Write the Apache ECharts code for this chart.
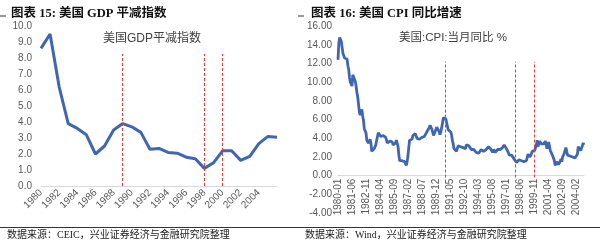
<!DOCTYPE html>
<html>
<head>
<meta charset="utf-8">
<script src="https://cdn.jsdelivr.net/npm/echarts@6/dist/echarts.min.js"></script>
<style>
html,body{margin:0;padding:0;background:#fff;}
#c{width:600px;height:242px;}
</style>
</head>
<body>
<div id="c"></div>
<script>
// ---- data ----
var gdpYears = ['1980','1981','1982','1983','1984','1985','1986','1987','1988','1989','1990','1991','1992','1993','1994','1995','1996','1997','1998','1999','2000','2001','2002','2003','2004','2005','2006'];
var gdpDeflator = [8.6,9.5,6.2,3.9,3.6,3.2,2.0,2.5,3.5,3.9,3.7,3.35,2.3,2.35,2.1,2.05,1.8,1.7,1.1,1.45,2.2,2.2,1.6,1.85,2.65,3.1,3.05];
var gdpMarkYears = ['1989','1998','2000'];

var cpiYears = [1980,1981,1982,1983,1984,1985,1986,1987,1988,1989,1990,1991,1992,1993,1994,1995,1996,1997,1998,1999,2000,2001,2002,2003,2004];
var cpi1980 = [12.4,14.2,14.8,14.7,14.4,14.4,13.1,12.9,12.6,12.8,12.6,12.5];
var cpi1981 = [11.8,11.4,10.5,10.0,9.8,9.6,10.8,10.8,11.0,10.1,9.6,8.9];
var cpi1982 = [8.4,7.6,6.8,6.5,6.7,7.1,6.4,5.9,5.0,5.1,4.6,3.8];
var cpi1983 = [3.7,3.5,3.6,3.9,3.5,2.6,2.5,2.6,2.9,2.9,3.3,3.8];
var cpi1984 = [4.2,4.6,4.8,4.6,4.2,4.2,4.2,4.3,4.3,4.3,4.1,3.9];
var cpi1985 = [3.5,3.5,3.7,3.7,3.8,3.8,3.6,3.3,3.1,3.2,3.5,3.8];
var cpi1986 = [3.9,3.1,2.2,1.6,1.5,1.8,1.6,1.6,1.8,1.5,1.3,1.1];
var cpi1987 = [1.5,2.1,3.0,3.8,3.9,3.7,3.9,4.3,4.4,4.5,4.5,4.4];
var cpi1988 = [4.0,3.9,3.9,3.9,3.9,4.0,4.1,4.0,4.2,4.2,4.2,4.4];
var cpi1989 = [4.7,4.8,5.0,5.1,5.4,5.2,5.0,4.7,4.3,4.5,4.7,4.6];
var cpi1990 = [5.2,5.3,5.2,4.7,4.4,4.7,4.8,5.6,6.2,6.3,6.3,6.1];
var cpi1991 = [5.7,5.3,4.9,4.9,5.0,4.7,4.4,3.8,3.4,2.9,3.0,3.1];
var cpi1992 = [2.6,2.8,3.2,3.2,3.0,3.1,3.2,3.1,3.0,3.2,3.0,2.9];
var cpi1993 = [3.3,3.2,3.1,3.2,3.2,3.0,2.8,2.8,2.7,2.8,2.7,2.7];
var cpi1994 = [2.5,2.5,2.5,2.4,2.3,2.5,2.8,2.9,3.0,2.6,2.7,2.7];
var cpi1995 = [2.8,2.9,2.9,3.1,3.2,3.0,2.8,2.6,2.5,2.8,2.6,2.5];
var cpi1996 = [2.7,2.7,2.8,2.9,2.9,2.8,3.0,2.9,3.0,3.0,3.3,3.3];
var cpi1997 = [3.0,3.0,2.8,2.5,2.2,2.3,2.2,2.2,2.2,2.1,1.8,1.7];
var cpi1998 = [1.6,1.4,1.4,1.4,1.7,1.7,1.7,1.6,1.5,1.5,1.5,1.6];
var cpi1999 = [1.7,1.6,1.7,2.3,2.1,2.0,2.1,2.3,2.6,2.6,2.6,2.7];
var cpi2000 = [2.7,3.2,3.8,3.1,3.2,3.7,3.7,3.4,3.5,3.4,3.4,3.4];
var cpi2001 = [3.7,3.5,2.9,3.3,3.6,3.2,2.7,2.7,2.6,2.1,1.9,1.6];
var cpi2002 = [1.1,1.1,1.5,1.6,1.2,1.1,1.5,1.8,1.5,2.0,2.2,2.4];
var cpi2003 = [2.6,3.0,3.0,2.2,2.1,2.1,2.1,2.2,2.3,2.0,1.8,1.9];
var cpi2004 = [1.9,1.7,1.7,2.3,3.1,3.3,3.0,2.7,2.5,3.2,3.5,3.3];
var cpiMarkMonths = ['1990-11','1998-01','1999-12'];

var gdpTicks = [0,1,2,3,4,5,6,7,8,9,10];
var cpiTicks = [-4,-2,0,2,4,6,8,10,12,14,16];

// ---- build ----
var cpiByYear = [cpi1980,cpi1981,cpi1982,cpi1983,cpi1984,cpi1985,cpi1986,cpi1987,cpi1988,cpi1989,cpi1990,cpi1991,cpi1992,cpi1993,cpi1994,cpi1995,cpi1996,cpi1997,cpi1998,cpi1999,cpi2000,cpi2001,cpi2002,cpi2003,cpi2004];
var cpiMonths = [], cpiValues = [];
cpiYears.forEach(function(y, i){
  cpiByYear[i].forEach(function(v, m){
    cpiMonths.push(y + '-' + (m < 9 ? '0' : '') + (m + 1));
    cpiValues.push(v);
  });
});

var CJK = '"Liberation Sans","Noto Sans CJK SC",sans-serif';
var SERIF = '"Liberation Serif","Noto Sans CJK SC",serif';
var gray = '#595959';
var red = '#e03c3c';
var blue = '#3f66b3';

var cpiGridH = 186.7;
var cpiMin = cpiTicks[0], cpiMax = cpiTicks[cpiTicks.length-1];
var cpiZeroOffset = -(0 - cpiMin) / (cpiMax - cpiMin) * cpiGridH;

function vline(cat, y0, y1){ return [{coord:[cat, y0]},{coord:[cat, y1]}]; }

var chart = echarts.init(document.getElementById('c'), null, {renderer:'canvas'});
chart.setOption({
  animation:false,
  backgroundColor:'#fff',
  title:[
    {text:'图表 15: 美国 GDP 平减指数', left:6, top:3, textStyle:{fontFamily:SERIF, fontWeight:'bold', fontSize:12.5, color:'#111'}},
    {text:'图表 16: 美国 CPI 同比增速', left:306, top:3, textStyle:{fontFamily:SERIF, fontWeight:'bold', fontSize:12.5, color:'#111'}},
    {text:'美国GDP平减指数', left:98, top:28, textStyle:{fontFamily:CJK, fontWeight:'normal', fontSize:12, color:'#404040'}},
    {text:'美国:CPI:当月同比 %', left:394, top:27, textStyle:{fontFamily:CJK, fontWeight:'normal', fontSize:11.5, color:'#404040'}}
  ],
  grid:[
    {left:41, top:26, width:236, height:160, outerBoundsMode:'none', containLabel:false},
    {left:338, top:26.3, width:246, height:cpiGridH, outerBoundsMode:'none', containLabel:false}
  ],
  xAxis:[
    {gridIndex:0, type:'category', data:gdpYears, boundaryGap:false,
     axisLine:{lineStyle:{color:'#d9d9d9'}}, axisTick:{show:false},
     axisLabel:{rotate:45, fontSize:10, color:gray, fontFamily:CJK, margin:5,
       interval:function(i){ return i % 2 === 0 && i < gdpYears.length - 1; }}},
    {gridIndex:1, type:'category', data:cpiMonths, boundaryGap:false, position:'bottom', offset:cpiZeroOffset,
     axisLine:{onZero:false, lineStyle:{color:'#d9d9d9'}}, axisTick:{show:false},
     axisLabel:{rotate:90, fontSize:10, color:gray, fontFamily:CJK, margin:3, interval:16}}
  ],
  yAxis:[
    {gridIndex:0, type:'value', min:gdpTicks[0], max:gdpTicks[gdpTicks.length-1], interval:1,
     splitLine:{show:false}, axisLine:{show:false}, axisTick:{show:false},
     axisLabel:{fontSize:10, color:gray, fontFamily:CJK, margin:9, formatter:function(v){return v.toFixed(1);}}},
    {gridIndex:1, type:'value', min:cpiMin, max:cpiMax, interval:2,
     splitLine:{show:false}, axisLine:{show:false}, axisTick:{show:false},
     axisLabel:{fontSize:10, color:gray, fontFamily:CJK, margin:6, formatter:function(v){return v.toFixed(2);}}}
  ],
  series:[
    {type:'line', xAxisIndex:0, yAxisIndex:0, data:gdpDeflator, symbol:'none',
     lineStyle:{color:blue, width:3},
     markLine:{silent:true, symbol:['none','none'], label:{show:false},
       lineStyle:{color:red, type:[3,2], width:1},
       data:gdpMarkYears.map(function(y){ return vline(y, 0, 8.25); })}},
    {type:'line', xAxisIndex:1, yAxisIndex:1, data:cpiValues, symbol:'none',
     lineStyle:{color:blue, width:2.8},
     markLine:{silent:true, symbol:['none','none'], label:{show:false},
       lineStyle:{color:red, type:[3,2], width:1},
       data:cpiMarkMonths.map(function(m){ return vline(m, -0.2, 12.2); })}}
  ],
  graphic:[
    {type:'line', shape:{x1:0,y1:16,x2:6,y2:16}, style:{stroke:'#333', lineWidth:1}},
    {type:'line', shape:{x1:298,y1:16,x2:304,y2:16}, style:{stroke:'#333', lineWidth:1}},
    {type:'line', shape:{x1:0,y1:227.5,x2:600,y2:227.5}, style:{stroke:'#333', lineWidth:1}},
    {type:'text', left:7, top:230, style:{text:'数据来源：CEIC，兴业证券经济与金融研究院整理', font:'10px '+SERIF, fill:'#222'}},
    {type:'text', left:305, top:230, style:{text:'数据来源：Wind，兴业证券经济与金融研究院整理', font:'10px '+SERIF, fill:'#222'}}
  ]
});
</script>
</body>
</html>
